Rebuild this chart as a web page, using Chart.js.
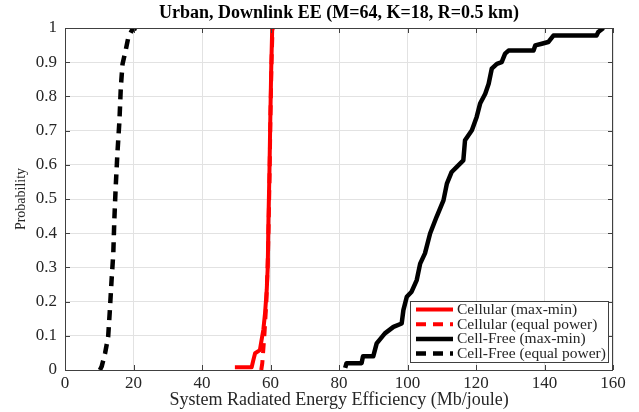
<!DOCTYPE html>
<html>
<head>
<meta charset="utf-8">
<script src="https://cdn.jsdelivr.net/npm/chart.js"></script>
<style>
  html, body { margin: 0; padding: 0; background: #fff; }
  #wrap { width: 639px; height: 412px; position: relative; }
</style>
</head>
<body>
<div id="wrap"><canvas id="cdf-chart"></canvas></div>
<script>
// CDF of system radiated energy efficiency

var chartTitle = "Urban, Downlink EE (M=64, K=18, R=0.5 km)";
var xTitle = "System Radiated Energy Efficiency (Mb/joule)";
var yTitle = "Probability";
var seriesNames = ["Cellular (max-min)", "Cellular (equal power)", "Cell-Free (max-min)", "Cell-Free (equal power)"];

// Cellular (max-min)
var cellMaxMinX = [49.6, 54.5, 55.0, 55.5, 56.9, 57.4, 57.9, 58.4, 58.9, 59.2, 59.4, 59.7, 59.9, 60.2, 60.5];
var cellMaxMinY = [0.008, 0.008, 0.029, 0.049, 0.058, 0.088, 0.117, 0.165, 0.234, 0.302, 0.438, 0.584, 0.71, 0.876, 1.0];

// Cellular (equal power)
var cellEqualX = [57.3, 57.6, 58.2, 58.8, 59.3, 59.7, 60.0, 60.3, 60.6];
var cellEqualY = [0.0, 0.02, 0.1, 0.2, 0.35, 0.55, 0.75, 0.9, 1.0];

// Cell-Free (max-min)
var cfMaxMinX = [81.8, 82.2, 86.6, 87.0, 90.0, 91.0, 93.4, 95.9, 98.3, 98.8, 99.8, 101.2, 102.7, 103.7, 105.1, 106.6, 108.5, 110.5, 111.5, 112.9, 114.4, 116.3, 116.8, 118.8, 120.2, 121.2, 122.7, 123.7, 124.6, 126.1, 127.5, 128.5, 129.5, 136.8, 137.3, 139.2, 141.1, 142.6, 155.2, 155.7, 157.2];
var cfMaxMinY = [0.006, 0.02, 0.02, 0.04, 0.04, 0.078, 0.107, 0.126, 0.136, 0.175, 0.214, 0.229, 0.263, 0.311, 0.341, 0.399, 0.448, 0.496, 0.545, 0.579, 0.594, 0.613, 0.672, 0.701, 0.74, 0.779, 0.808, 0.837, 0.881, 0.895, 0.9, 0.925, 0.934, 0.934, 0.949, 0.954, 0.959, 0.978, 0.978, 0.988, 1.0];

// Cell-Free (equal power)
var cfEqualX = [10.2, 10.7, 11.7, 12.6, 13.1, 13.6, 14.1, 14.4, 14.8, 15.3, 15.9, 16.3, 16.8, 17.7, 18.5, 19.5, 20.7];
var cfEqualY = [0.0, 0.01, 0.049, 0.097, 0.175, 0.263, 0.341, 0.438, 0.535, 0.633, 0.73, 0.827, 0.895, 0.934, 0.973, 0.993, 1.0];

var xTicks = [0, 20, 40, 60, 80, 100, 120, 140, 160];
var yTicks = [0, 0.1, 0.2, 0.3, 0.4, 0.5, 0.6, 0.7, 0.8, 0.9, 1];

function toPoints(xs, ys) {
	return xs.map(function (x, i) { return { x: x, y: ys[i] }; });
}

var serif = "'Liberation Serif', 'Times New Roman', serif";
var textColor = "#262626";

// title, box with inward ticks, and legend inside the axes
var decorations = {
	id: "decorations",
	afterDraw: function (chart) {
		var ctx = chart.ctx;
		var a = chart.chartArea;
		var xs = chart.scales.x, ys = chart.scales.y;
		ctx.save();

		// title
		ctx.fillStyle = "#000";
		ctx.font = "bold 18px " + serif;
		ctx.textAlign = "center";
		ctx.textBaseline = "middle";
		ctx.fillText(chartTitle, (a.left + a.right) / 2, 13);

		// box and ticks
		ctx.strokeStyle = "#404040";
		ctx.lineWidth = 1;
		ctx.strokeRect(a.left + 0.5, a.top + 0.5, a.right - a.left - 1, a.bottom - a.top);
		var tl = 5;
		ctx.beginPath();
		xTicks.forEach(function (v) {
			var px = Math.round(xs.getPixelForValue(v)) + 0.5;
			ctx.moveTo(px, a.bottom); ctx.lineTo(px, a.bottom - tl);
			ctx.moveTo(px, a.top); ctx.lineTo(px, a.top + tl);
		});
		yTicks.forEach(function (v) {
			var py = Math.round(ys.getPixelForValue(v)) + 0.5;
			ctx.moveTo(a.left, py); ctx.lineTo(a.left + tl, py);
			ctx.moveTo(a.right, py); ctx.lineTo(a.right - tl, py);
		});
		ctx.stroke();

		// legend
		var lx = 410, ly = 301, lw = 198, lh = 61;
		ctx.fillStyle = "#fff";
		ctx.fillRect(lx, ly, lw, lh);
		ctx.strokeStyle = "#404040";
		ctx.strokeRect(lx + 0.5, ly + 0.5, lw, lh);
		ctx.font = "15.5px " + serif;
		ctx.textAlign = "left";
		ctx.textBaseline = "middle";
		chart.data.datasets.forEach(function (ds, i) {
			var cy = ly + 8.5 + i * 14.7;
			ctx.strokeStyle = ds.borderColor;
			ctx.lineWidth = ds.borderWidth;
			ctx.setLineDash(ds.borderDash || []);
			ctx.beginPath();
			ctx.moveTo(lx + 6, cy);
			ctx.lineTo(lx + 43, cy);
			ctx.stroke();
			ctx.setLineDash([]);
			ctx.fillStyle = textColor;
			ctx.fillText(ds.label, lx + 47, cy + 0.5);
		});
		ctx.restore();
	},
};

var ctx = document.getElementById("cdf-chart").getContext("2d");
var chart = new Chart(ctx, {
	type: "line",
	data: {
		datasets: [
			{
				label: seriesNames[0],
				data: toPoints(cellMaxMinX, cellMaxMinY),
				borderColor: "#ff0000",
				borderWidth: 4,
			},
			{
				label: seriesNames[1],
				data: toPoints(cellEqualX, cellEqualY),
				borderColor: "#ff0000",
				borderWidth: 4,
				borderDash: [10, 7],
			},
			{
				label: seriesNames[2],
				data: toPoints(cfMaxMinX, cfMaxMinY),
				borderColor: "#000000",
				borderWidth: 4.5,
			},
			{
				label: seriesNames[3],
				data: toPoints(cfEqualX, cfEqualY),
				borderColor: "#000000",
				borderWidth: 4.5,
				borderDash: [10, 7],
			},
		],
	},
	options: {
		responsive: true,
		maintainAspectRatio: false,
		animation: false,
		layout: { padding: { left: 0, right: 26, top: 28, bottom: 0 } },
		elements: {
			point: { radius: 0 },
			line: { tension: 0, fill: false, borderCapStyle: "butt", borderJoinStyle: "round" },
		},
		plugins: {
			legend: { display: false },
			title: { display: false },
			tooltip: { enabled: false },
		},
		scales: {
			x: {
				type: "linear",
				min: 0,
				max: 160,
				afterFit: function (s) { s.height = 42; },
				afterBuildTicks: function (s) { s.ticks = xTicks.map(function (v) { return { value: v }; }); },
				grid: { color: "#e2e2e2", drawTicks: false },
				border: { display: false },
				ticks: { color: textColor, padding: 3, font: { family: serif, size: 17 }, maxRotation: 0 },
				title: { display: true, text: xTitle, color: textColor, font: { family: serif, size: 18 }, padding: { top: 0, bottom: 1 } },
			},
			y: {
				type: "linear",
				min: 0,
				max: 1,
				afterFit: function (s) { s.width = 65; },
				afterBuildTicks: function (s) { s.ticks = yTicks.map(function (v) { return { value: v }; }); },
				grid: { color: "#e2e2e2", drawTicks: false },
				border: { display: false },
				ticks: {
					color: textColor,
					padding: 8,
					font: { family: serif, size: 17 },
					callback: function (v) { return String(Math.round(v * 10) / 10); },
				},
				title: { display: true, text: yTitle, color: textColor, font: { family: serif, size: 14 }, padding: { top: 13, bottom: 0 } },
			},
		},
	},
	plugins: [decorations],
});
</script>
</body>
</html>
